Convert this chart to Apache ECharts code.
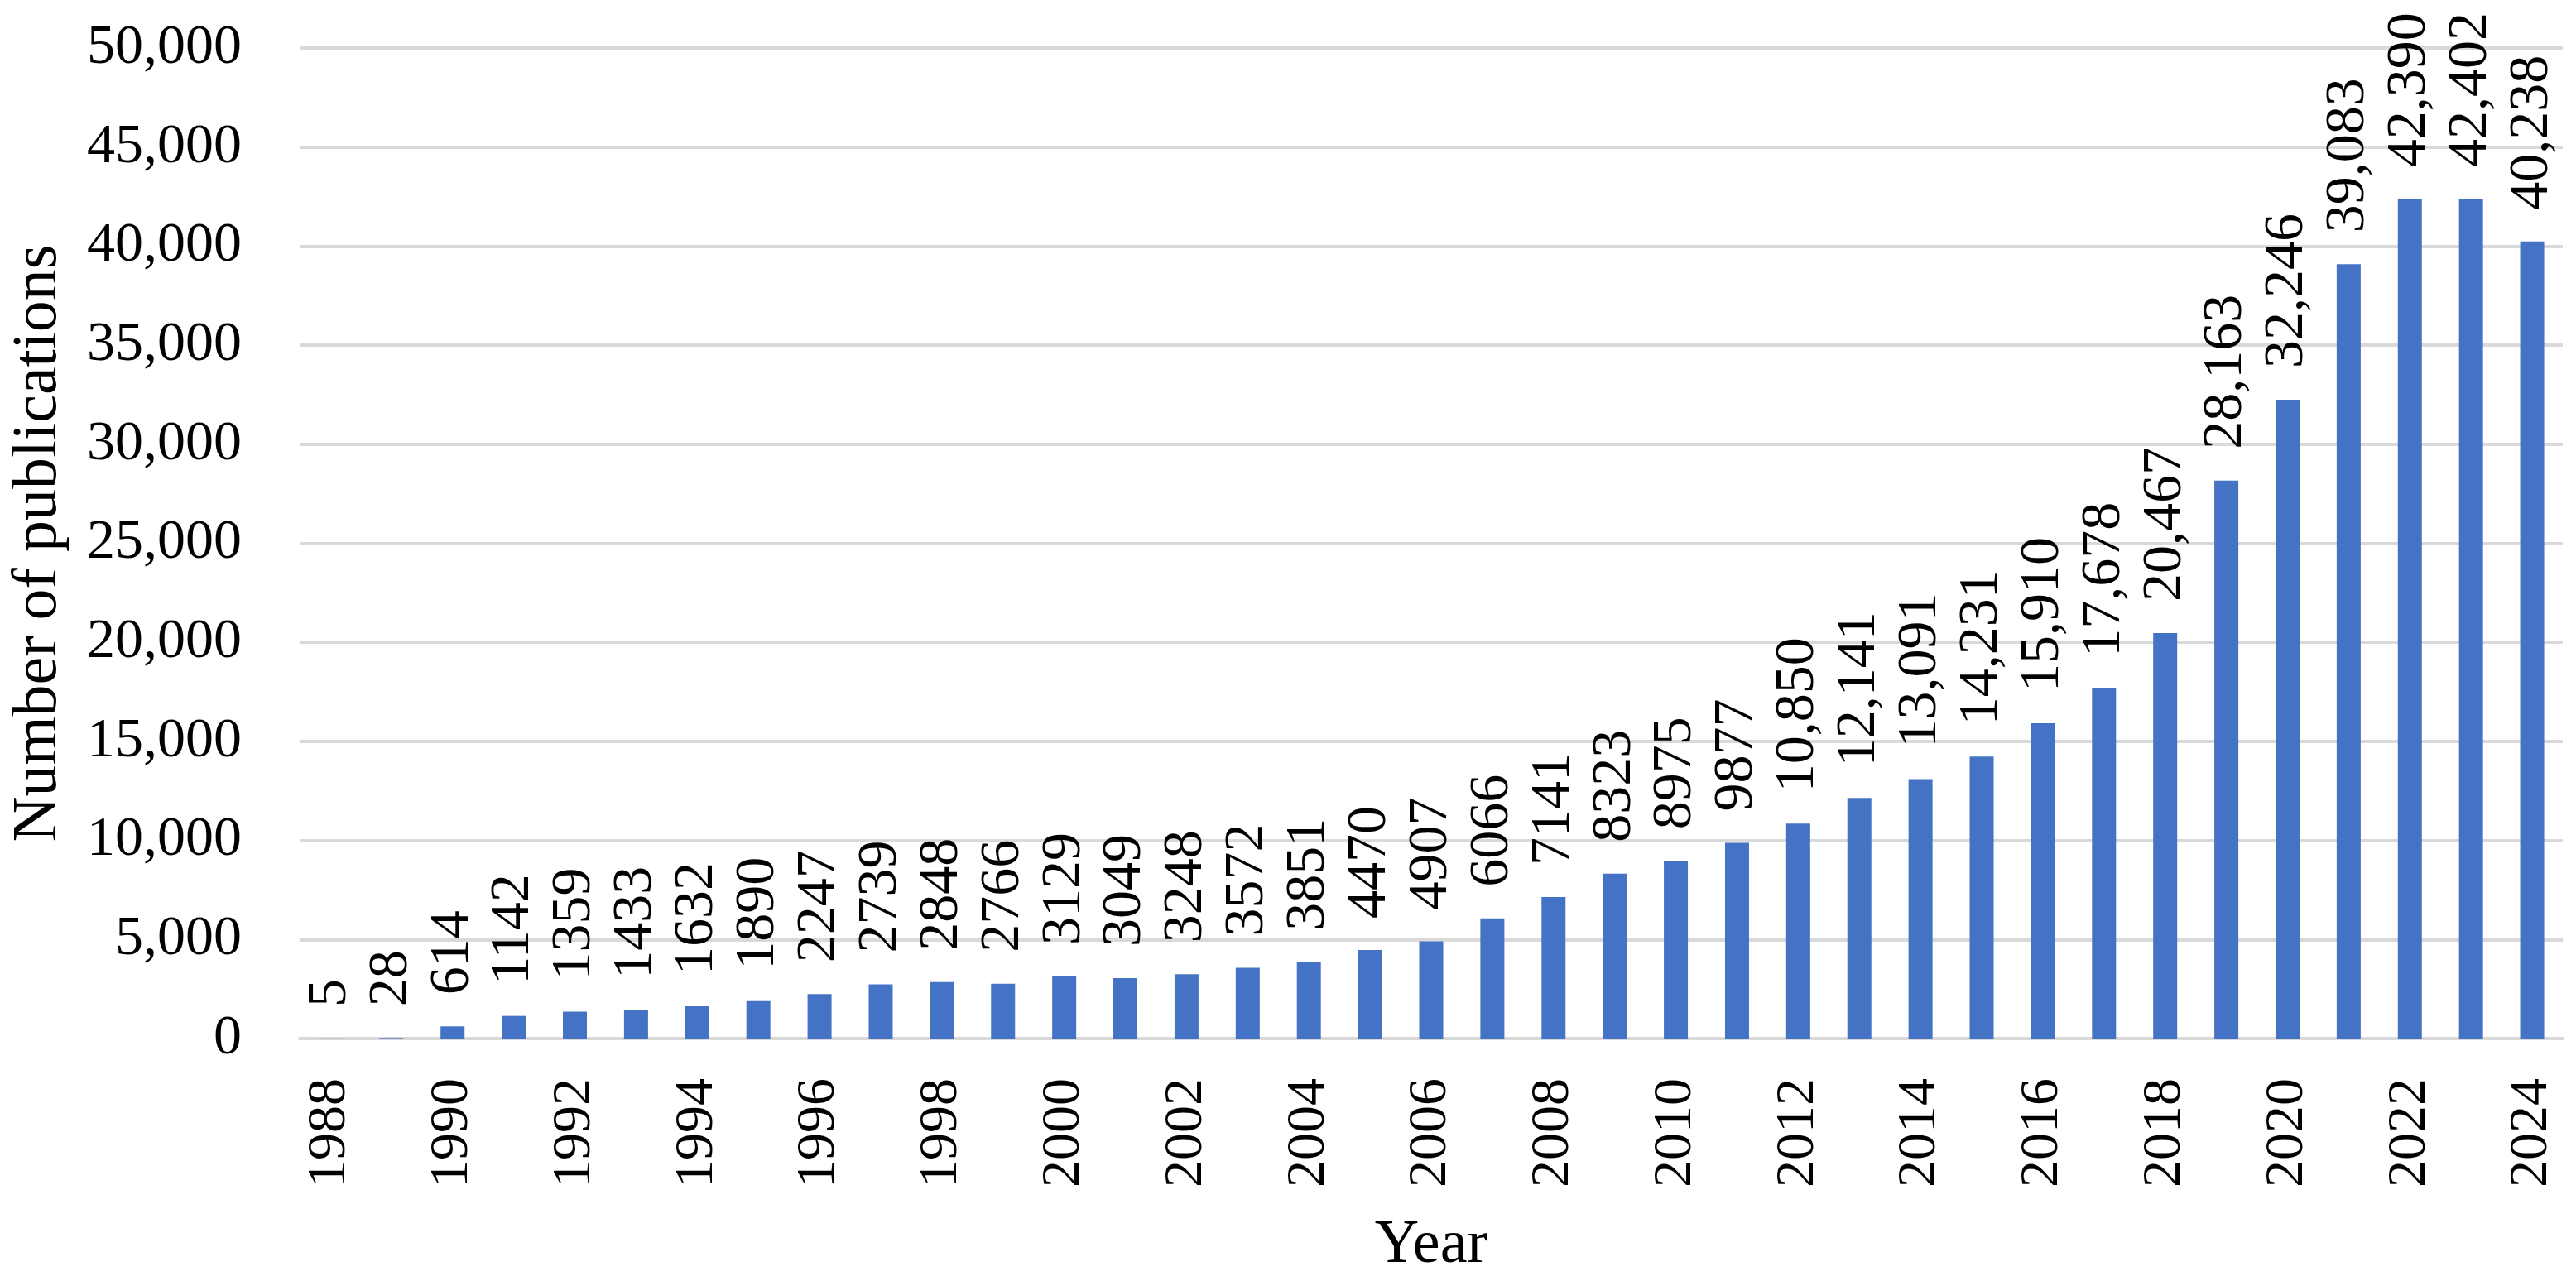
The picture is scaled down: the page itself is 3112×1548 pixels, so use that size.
<!DOCTYPE html>
<html>
<head>
<meta charset="utf-8">
<script src="https://cdn.jsdelivr.net/npm/echarts@6/dist/echarts.min.js"></script>
<style>
html,body{margin:0;padding:0;background:#fff;}
#c{width:3112px;height:1548px;}
</style>
</head>
<body>
<div id="c"></div>
<script>
const years = ['1988','1989','1990','1991','1992','1993','1994','1995','1996','1997','1998','1999','2000','2001','2002','2003','2004','2005','2006','2007','2008','2009','2010','2011','2012','2013','2014','2015','2016','2017','2018','2019','2020','2021','2022','2023','2024'];
const publications = [5,28,614,1142,1359,1433,1632,1890,2247,2739,2848,2766,3129,3049,3248,3572,3851,4470,4907,6066,7141,8323,8975,9877,10850,12141,13091,14231,15910,17678,20467,28163,32246,39083,42390,42402,40238];
const yTicks = [0,5000,10000,15000,20000,25000,30000,35000,40000,45000,50000];

const serif = 'Liberation Serif';
function fmtThousands(v){ return String(v).replace(/\B(?=(\d{3})+(?!\d))/g, ','); }
function fmtLabel(v){ return v >= 10000 ? fmtThousands(v) : String(v); }

const chart = echarts.init(document.getElementById('c'));
chart.setOption({
  backgroundColor:'#fff',
  animation:false,
  grid:{left:362, right:16, top:58, bottom:293, containLabel:false},
  xAxis:{
    type:'category',
    data:years,
    name:'Year',
    nameLocation:'middle',
    nameGap:214,
    nameTextStyle:{fontFamily:serif, fontSize:74, color:'#000'},
    axisLine:{show:true, lineStyle:{color:'#d9d9d9', width:4}},
    axisTick:{show:false},
    axisLabel:{interval:1, rotate:90, margin:48, fontFamily:serif, fontSize:66, color:'#000'}
  },
  yAxis:{
    type:'value',
    min:yTicks[0],
    max:yTicks[yTicks.length-1],
    interval:5000,
    name:'Number of publications',
    nameLocation:'middle',
    nameGap:277,
    nameTextStyle:{fontFamily:serif, fontSize:76, color:'#000'},
    axisLine:{show:false},
    axisTick:{show:false},
    splitLine:{lineStyle:{color:'#d9d9d9', width:4}},
    axisLabel:{margin:70, fontFamily:serif, fontSize:68, color:'#000', formatter:v=>fmtThousands(v)}
  },
  series:[{
    type:'bar',
    data:publications,
    barWidth:29,
    itemStyle:{color:'#4472C4'},
    label:{
      show:true,
      position:'top',
      rotate:90,
      align:'left',
      verticalAlign:'middle',
      distance:38,
      fontFamily:serif,
      fontSize:68,
      color:'#000',
      formatter:p=>fmtLabel(p.value)
    }
  }]
});
</script>
</body>
</html>
